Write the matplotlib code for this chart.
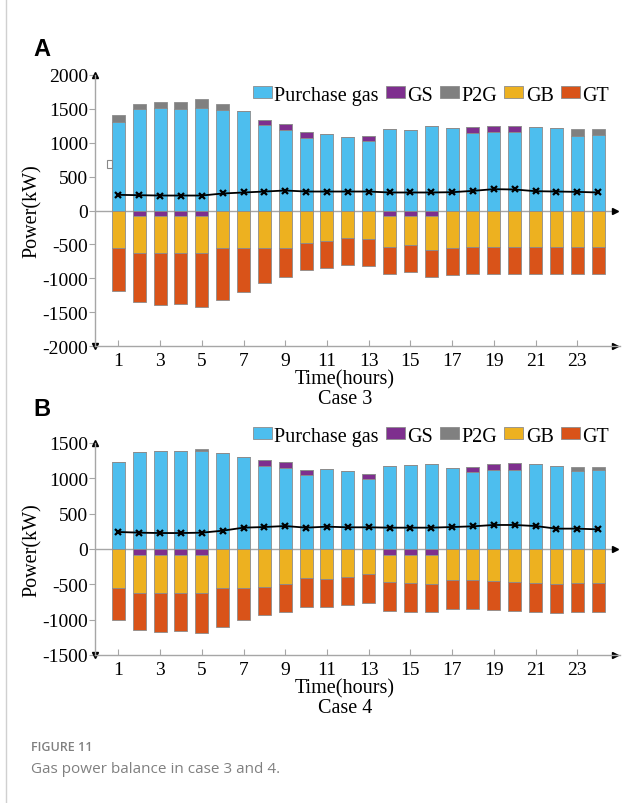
import numpy as np
import matplotlib
matplotlib.use("Agg")
import matplotlib.pyplot as plt
from matplotlib.patches import Patch, Rectangle
from matplotlib.lines import Line2D
import matplotlib.transforms as mtransforms

plt.rcParams['font.family'] = ['Liberation Serif', 'DejaVu Serif']
plt.rcParams['axes.unicode_minus'] = False

hours = np.arange(1, 25)
xticks = np.arange(1, 24, 2)

# Case 3
purchase3 = [1313, 1500, 1510, 1505, 1514, 1485, 1470, 1264, 1195, 1067, 1126, 1087,
             1023, 1200, 1185, 1244, 1219, 1151, 1165, 1165, 1229, 1214, 1106, 1121]
gs_out3 = [0, 0, 0, 0, 0, 0, 0, 78, 88, 88, 0, 0, 73, 0, 0, 0, 0, 78, 84, 79, 0, 0, 0, 0]
p2g3 = [103, 73, 98, 98, 133, 84, 0, 0, 0, 0, 0, 0, 0, 0, 0, 0, 0, 0, 0, 0, 0, 5, 104, 79]
gs_in3 = [0, 84, 84, 84, 84, 0, 0, 0, 0, 0, 0, 0, 0, 84, 84, 84, 5, 0, 0, 0, 0, 0, 0, 0]
gb3 = [551, 540, 540, 540, 540, 551, 551, 551, 551, 477, 447, 413,
       418, 452, 427, 501, 551, 546, 546, 546, 546, 546, 546, 546]
gt3 = [639, 728, 768, 763, 802, 767, 659, 516, 437, 398, 399, 398,
       403, 403, 404, 403, 403, 398, 398, 398, 398, 398, 398, 398]
load3 = [231, 226, 221, 221, 221, 251, 266, 280, 295, 280, 280, 280,
         280, 266, 266, 266, 270, 290, 315, 310, 285, 280, 275, 266]

# Case 4
purchase4 = [1226, 1368, 1392, 1392, 1392, 1358, 1297, 1175, 1151, 1042, 1137, 1099,
             991, 1175, 1189, 1198, 1151, 1085, 1118, 1123, 1203, 1175, 1099, 1123]
gs_out4 = [0, 0, 0, 0, 0, 0, 0, 80, 80, 76, 0, 0, 75, 0, 0, 0, 0, 80, 85, 89, 0, 0, 0, 0]
p2g4 = [0, 0, 0, 0, 28, 0, 0, 0, 0, 0, 0, 0, 0, 0, 0, 0, 0, 0, 0, 0, 0, 0, 66, 33]
gs_in4 = [0, 80, 80, 80, 80, 0, 0, 0, 0, 0, 0, 0, 0, 80, 80, 80, 5, 0, 0, 0, 0, 0, 0, 0]
gb4 = [557, 543, 543, 543, 543, 547, 547, 542, 500, 415, 425, 396,
       358, 392, 406, 420, 438, 443, 458, 472, 486, 500, 486, 486]
gt4 = [443, 518, 552, 542, 570, 557, 458, 397, 396, 401, 396, 392,
       401, 405, 401, 396, 411, 406, 400, 401, 401, 401, 401, 401]
load4 = [241, 231, 226, 226, 231, 259, 302, 311, 325, 302, 316, 307,
         307, 302, 302, 302, 311, 321, 340, 340, 325, 288, 288, 278]

c_buy = '#4DBEEE'
c_gs = '#7E2F8E'
c_p2g = '#808080'
c_gb = '#EDB120'
c_gt = '#D95319'
edge = '#8C8C8C'
axc = '#A6A6A6'

W, H = 643, 804
fig = plt.figure(figsize=(W / 100, H / 100), dpi=100)


def panel(rect, buy, gs_out, p2g, gs_in, gb, gt, load, lim, step, case, legend_y):
    ax = fig.add_axes(rect)
    buy, gs_out, p2g = np.array(buy), np.array(gs_out), np.array(p2g)
    gs_in, gb, gt = np.array(gs_in), np.array(gb), np.array(gt)
    kw = dict(width=0.62, edgecolor=edge, linewidth=0.6, zorder=2)
    ax.bar(hours, buy, color=c_buy, **kw)
    ax.bar(hours, gs_out, bottom=buy, color=c_gs, **kw)
    ax.bar(hours, p2g, bottom=buy + gs_out, color=c_p2g, **kw)
    ax.bar(hours, -gs_in, color=c_gs, **kw)
    ax.bar(hours, -gb, bottom=-gs_in, color=c_gb, **kw)
    ax.bar(hours, -gt, bottom=-gs_in - gb, color=c_gt, **kw)
    ax.plot(hours, load, color='black', lw=1.3, marker='x', ms=5, mew=1.6, zorder=4)

    ax.axhline(0, color=axc, lw=1.0, zorder=1, xmax=0.985)
    tr = mtransforms.blended_transform_factory(ax.transAxes, ax.transData)
    ax.plot([0.99], [0], marker='>', color='black', ms=5, transform=tr, clip_on=False)
    ax.plot([0], [1], marker='^', color='black', ms=4, transform=ax.transAxes, clip_on=False)
    ax.plot([0], [0], marker='v', color='black', ms=4, transform=ax.transAxes, clip_on=False)
    ax.plot([0.99], [0], marker='>', color='black', ms=5, transform=ax.transAxes, clip_on=False)

    ax.set_xlim(-0.12, 25.05)
    ax.set_ylim(-lim, lim)
    ax.set_yticks(np.arange(-lim, lim + 1, step))
    ax.set_xticks(xticks)
    for s in ['top', 'right']:
        ax.spines[s].set_visible(False)
    for s in ['left', 'bottom']:
        ax.spines[s].set_color(axc)
        ax.spines[s].set_linewidth(1.0)
    ax.tick_params(axis='y', direction='out', length=4, color=axc, labelsize=14, pad=1)
    ax.tick_params(axis='x', direction='in', length=4, color=axc, labelsize=14, pad=4)

    ax.set_ylabel('Power(kW)', fontsize=14.5)
    ax.yaxis.set_label_coords(-0.101, 0.5)
    h_px = rect[3] * H
    ax.set_xlabel('Time(hours)\n' + case, fontsize=14.5, linespacing=1.05)
    ax.xaxis.set_label_coords(0.476, -23 / h_px)

    handles = [Patch(facecolor=c, edgecolor=edge, linewidth=0.6)
               for c in [c_buy, c_gs, c_p2g, c_gb, c_gt]]
    labels = ['Purchase gas', 'GS', 'P2G', 'GB', 'GT']
    ax.legend(handles, labels, loc='center left', bbox_to_anchor=(0.30, legend_y),
              ncol=5, frameon=False, fontsize=14.5, handlelength=0.95, handleheight=0.55,
              handletextpad=0.12, columnspacing=0.35, borderaxespad=0, borderpad=0)
    return ax


left = 95 / W
width = 525 / W
panel([left, 1 - 347 / H, width, 271 / H], purchase3, gs_out3, p2g3, gs_in3, gb3, gt3,
      load3, 2000, 500, 'Case 3', 0.926)
panel([left, 1 - 656 / H, width, 212 / H], purchase4, gs_out4, p2g4, gs_in4, gb4, gt4,
      load4, 1500, 500, 'Case 4', 1.033)

# panel labels
fig.text(33 / W, 1 - 50 / H, 'A', fontsize=17, fontweight='bold',
         family=['Liberation Sans', 'DejaVu Sans'], va='center', ha='left')
fig.text(33 / W, 1 - 409 / H, 'B', fontsize=17, fontweight='bold',
         family=['Liberation Sans', 'DejaVu Sans'], va='center', ha='left')

# stray marker in original
fig.add_artist(Rectangle((107 / W, 1 - 169 / H), 5 / W, 8 / H, transform=fig.transFigure,
                         fill=False, edgecolor='#888888', linewidth=0.8))

# page border line
fig.add_artist(Line2D([6 / W, 6 / W], [0, 1], transform=fig.transFigure,
                      color='#D0D0D0', lw=1.0))

# caption
fig.text(31 / W, 1 - 748 / H, 'FIGURE 11', fontsize=9, fontweight='semibold',
         color='#808080', family=['Open Sans', 'DejaVu Sans'], va='center', ha='left')
fig.text(31 / W, 1 - 770 / H, 'Gas power balance in case 3 and 4.', fontsize=11,
         color='#808080', family=['Open Sans', 'DejaVu Sans'], va='center', ha='left')

fig.savefig('out.png', dpi=100, facecolor='white')
